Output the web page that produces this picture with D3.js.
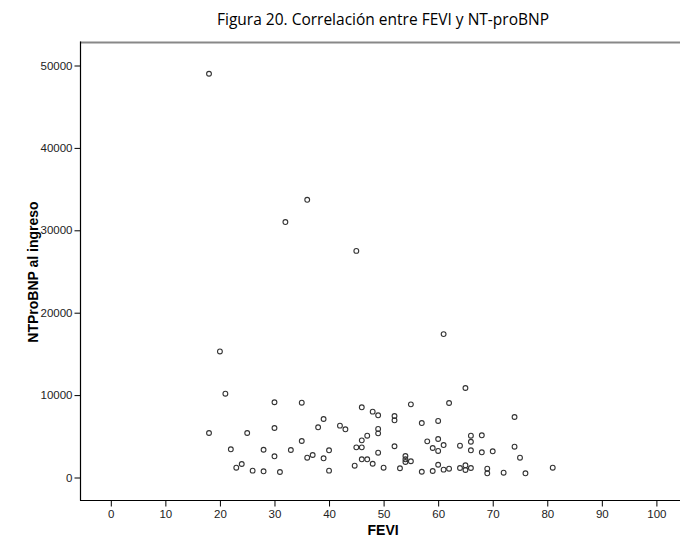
<!DOCTYPE html>
<html>
<head>
<meta charset="utf-8">
<script src="https://cdn.jsdelivr.net/npm/d3@7/dist/d3.min.js"></script>
<style>
  html, body { margin: 0; padding: 0; background: #fff; }
  svg { display: block; }
</style>
</head>
<body>
<svg id="chart" width="680" height="543"></svg>
<script>
// FEVI (%) per patient
const fevi = [
  18, 36, 32, 45, 61, 20,
  21, 30, 35, 39, 38, 42, 43, 18, 25, 30, 35, 22, 28, 33, 40, 30, 36, 37, 39,
  23, 24, 26, 28, 31, 40, 44.7,
  65, 46, 48, 49, 55, 62, 52, 52, 57, 60, 49, 49, 47, 46, 45, 46, 49, 52, 58,
  60, 59, 60, 61, 64, 66, 66, 68, 66, 68, 70, 46, 47, 48, 50, 53, 54, 54, 54,
  55, 57, 59, 60, 61, 62, 64, 65, 65, 66, 69, 69,
  74, 74, 75, 72, 76, 81
];
// NT-proBNP at admission (pg/mL), same order
const ntprobnp = [
  49000, 33700, 31000, 27500, 17400, 15300,
  10170, 9130, 9080, 7100, 6090, 6290, 5850, 5400, 5400, 6010, 4430, 3420, 3370, 3340, 3300, 2570, 2400, 2730, 2330,
  1190, 1640, 830, 750, 670, 830, 1430,
  10860, 8520, 7990, 7550, 8880, 9040, 7460, 6940, 6610, 6860, 5890, 5360, 5070, 4510, 3660, 3660, 3010, 3790, 4390,
  4670, 3580, 3220, 3940, 3860, 5070, 4340, 5120, 3300, 3060, 3180, 2210, 2210, 1670, 1190, 1120, 2610, 2210, 1880,
  1970, 700, 790, 1550, 950, 1070, 1150, 1480, 910, 1150, 1070, 510,
  7340, 3740, 2400, 580, 510, 1190
];
const xTicks = [0, 10, 20, 30, 40, 50, 60, 70, 80, 90, 100];
const yTicks = [0, 10000, 20000, 30000, 40000, 50000];

const titleText = "Figura 20. Correlación entre FEVI y NT-proBNP";
const xTitle = "FEVI";
const yTitle = "NTProBNP al ingreso";

const svg = d3.select("#chart");

// plot frame
const frame = { left: 80, top: 42.5, bottom: 500, right: 690 };

const x = d3.scaleLinear().domain([0, 100]).range([110.8, 656.4]);
const y = d3.scaleLinear().domain([0, 50000]).range([477.5, 65.5]);

// title
svg.append("text")
  .attr("x", 383).attr("y", 25)
  .attr("text-anchor", "middle")
  .style("font-family", "'Open Sans', 'Noto Sans', sans-serif")
  .style("font-size", "15.5px")
  .style("fill", "#000")
  .text(titleText);

// top border of the frame
svg.append("line")
  .attr("x1", frame.left).attr("x2", frame.right)
  .attr("y1", frame.top).attr("y2", frame.top)
  .attr("stroke", "#888").attr("stroke-width", 2);

// axes lines
svg.append("line")
  .attr("x1", frame.left + 0.5).attr("x2", frame.left + 0.5)
  .attr("y1", frame.top - 1).attr("y2", frame.bottom + 0.5)
  .attr("stroke", "#000").attr("stroke-width", 1.2);
svg.append("line")
  .attr("x1", frame.left).attr("x2", frame.right)
  .attr("y1", frame.bottom + 0.5).attr("y2", frame.bottom + 0.5)
  .attr("stroke", "#000").attr("stroke-width", 1.2);

const tickFont = "'Liberation Sans', Arial, sans-serif";

// y axis
const yAxis = svg.append("g")
  .attr("transform", `translate(${frame.left + 0.5},0)`)
  .call(d3.axisLeft(y).tickValues(yTicks).tickFormat(d3.format("d")).tickSize(6).tickPadding(2));
yAxis.select(".domain").remove();
yAxis.selectAll("line").attr("stroke", "#000");
yAxis.selectAll("text")
  .style("font-family", tickFont).style("font-size", "11.5px").style("fill", "#222");

// x axis
const xAxis = svg.append("g")
  .attr("transform", `translate(0,${frame.bottom + 0.5})`)
  .call(d3.axisBottom(x).tickValues(xTicks).tickFormat(d3.format("d")).tickSize(6).tickPadding(3));
xAxis.select(".domain").remove();
xAxis.selectAll("line").attr("stroke", "#000");
xAxis.selectAll("text")
  .style("font-family", tickFont).style("font-size", "11.5px").style("fill", "#222");

// axis titles
svg.append("text")
  .attr("x", (x(0) + x(100)) / 2 - 0.5).attr("y", 535)
  .attr("text-anchor", "middle")
  .style("font-family", tickFont).style("font-weight", "bold").style("font-size", "14px")
  .text(xTitle);
svg.append("text")
  .attr("transform", `translate(38,272) rotate(-90)`)
  .attr("text-anchor", "middle")
  .style("font-family", tickFont).style("font-weight", "bold").style("font-size", "14px")
  .text(yTitle);

// scatter points
const points = fevi.map((v, i) => ({ fevi: v, nt: ntprobnp[i] }));
svg.append("g")
  .selectAll("circle")
  .data(points)
  .join("circle")
  .attr("cx", d => x(d.fevi))
  .attr("cy", d => y(d.nt))
  .attr("r", 2.4)
  .attr("fill", "none")
  .attr("stroke", "#333")
  .attr("stroke-width", 1.1);
</script>
</body>
</html>
